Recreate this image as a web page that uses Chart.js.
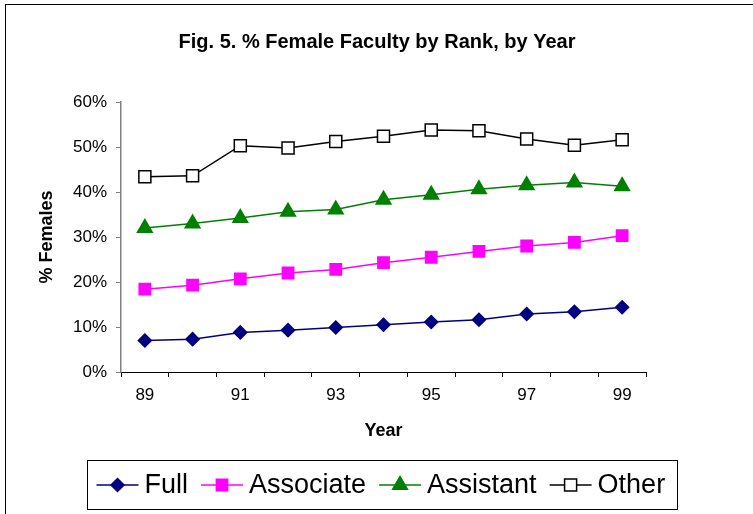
<!DOCTYPE html>
<html>
<head>
<meta charset="utf-8">
<title>Fig. 5. % Female Faculty by Rank, by Year</title>
<script src="https://cdn.jsdelivr.net/npm/chart.js"></script>
<style>
  html, body { margin: 0; padding: 0; background: #fff; }
  canvas { display: block; }
</style>
</head>
<body>
<canvas id="chart" width="753" height="514"></canvas>
<script>
// Data
const years = ['89', '90', '91', '92', '93', '94', '95', '96', '97', '98', '99'];
const labeledYears = ['89', '91', '93', '95', '97', '99'];
const fullValues = [7.0, 7.3, 8.8, 9.3, 9.9, 10.5, 11.1, 11.6, 12.9, 13.4, 14.4];
const associateValues = [18.4, 19.3, 20.7, 22.0, 22.8, 24.3, 25.5, 26.8, 28.0, 28.8, 30.3];
const assistantValues = [32.0, 33.0, 34.2, 35.6, 36.1, 38.3, 39.4, 40.6, 41.5, 42.1, 41.3];
const otherValues = [43.4, 43.6, 50.3, 49.8, 51.2, 52.4, 53.8, 53.6, 51.8, 50.4, 51.6];

const titleText = 'Fig. 5. % Female Faculty by Rank, by Year';
const fontFamily = '"Liberation Sans", Arial, sans-serif';

// small marker painter for the legend (same shapes as the chart points)
function drawMarker(ctx, style, r, x, y) {
  ctx.beginPath();
  if (style === 'rectRot') {
    ctx.moveTo(x, y - r);
    ctx.lineTo(x + r, y);
    ctx.lineTo(x, y + r);
    ctx.lineTo(x - r, y);
  } else if (style === 'triangle') {
    for (let i = 0; i < 3; i++) {
      const a = i * 2 * Math.PI / 3;
      const px = x + Math.sin(a) * r;
      const py = y - Math.cos(a) * r;
      if (i === 0) ctx.moveTo(px, py); else ctx.lineTo(px, py);
    }
  } else {
    const s = r * Math.SQRT1_2;
    ctx.rect(x - s, y - s, 2 * s, 2 * s);
  }
  ctx.closePath();
  ctx.fill();
  ctx.stroke();
}

const framePlugin = {
  id: 'framePlugin',
  afterDraw(chart) {
    const ctx = chart.ctx;
    const area = chart.chartArea;
    ctx.save();

    // outer frame
    ctx.strokeStyle = '#000';
    ctx.lineWidth = 1;
    ctx.strokeRect(5.5, 4.5, 800, 600);

    // title
    ctx.fillStyle = '#000';
    ctx.font = 'bold 20px ' + fontFamily;
    ctx.textAlign = 'center';
    ctx.textBaseline = 'middle';
    ctx.fillText(titleText, 377, 42);

    // legend box
    ctx.font = '27px ' + fontFamily;
    const lineLen = 42, gapText = 6, gapItem = 13, padL = 9, padR = 12;
    const items = chart.data.datasets.map(ds => ({ ds, w: ctx.measureText(ds.label).width }));
    const total = items.reduce((s, it) => s + lineLen + gapText + it.w, 0) + gapItem * (items.length - 1);
    const boxW = Math.round(total + padL + padR);
    const cx = (area.left + area.right) / 2;
    const boxX = Math.round(cx - boxW / 2) - 1.5;
    const boxY = 460.5, boxH = 49;
    ctx.strokeStyle = '#000';
    ctx.lineWidth = 1;
    ctx.strokeRect(boxX, boxY, boxW, boxH);

    let x = boxX + padL;
    const cy = boxY + boxH / 2;
    ctx.textAlign = 'left';
    items.forEach(it => {
      const ds = it.ds;
      ctx.strokeStyle = ds.borderColor;
      ctx.lineWidth = ds.borderWidth;
      ctx.beginPath();
      ctx.moveTo(x, cy);
      ctx.lineTo(x + lineLen, cy);
      ctx.stroke();

      ctx.fillStyle = ds.pointBackgroundColor;
      ctx.strokeStyle = ds.pointBorderColor;
      ctx.lineWidth = ds.pointBorderWidth;
      drawMarker(ctx, ds.pointStyle, ds.pointRadius, x + lineLen / 2, cy);

      ctx.fillStyle = '#000';
      ctx.fillText(ds.label, x + lineLen + gapText, cy + 1);
      x += lineLen + gapText + it.w + gapItem;
    });

    ctx.restore();
  }
};

function series(label, data, color, style, radius, fill) {
  return {
    label: label,
    data: data,
    borderColor: color,
    backgroundColor: color,
    borderWidth: 1.5,
    tension: 0,
    pointStyle: style,
    pointRadius: radius,
    pointHoverRadius: radius,
    pointBackgroundColor: fill || color,
    pointBorderColor: color,
    pointBorderWidth: 1.5
  };
}

new Chart(document.getElementById('chart').getContext('2d'), {
  type: 'line',
  data: {
    labels: years,
    datasets: [
      series('Full', fullValues, '#000080', 'rectRot', 6.5),
      series('Associate', associateValues, '#FF00FF', 'rect', 8),
      series('Assistant', assistantValues, '#008000', 'triangle', 8.5),
      series('Other', otherValues, '#000000', 'rect', 8.5, '#FFFFFF')
    ]
  },
  options: {
    responsive: false,
    animation: false,
    devicePixelRatio: 1,
    layout: {
      padding: { top: 102, right: 107, bottom: 72, left: 0 }
    },
    plugins: {
      legend: { display: false },
      title: { display: false },
      tooltip: { enabled: false }
    },
    scales: {
      x: {
        offset: true,
        grid: {
          offset: true,
          drawOnChartArea: false,
          tickLength: 5,
          color: '#000'
        },
        border: { color: '#000', width: 1 },
        ticks: {
          autoSkip: false,
          maxRotation: 0,
          color: '#000',
          padding: 8,
          font: { family: fontFamily, size: 17 },
          callback: function(value, index) {
            return labeledYears.includes(years[index]) ? years[index] : '';
          }
        },
        title: {
          display: true,
          text: 'Year',
          color: '#000',
          font: { family: fontFamily, size: 18, weight: 'bold' },
          padding: { top: 0, bottom: 0 }
        },
        afterFit: function(scale) {
          scale.height = 70;
        }
      },
      y: {
        min: 0,
        max: 60,
        grid: {
          drawOnChartArea: false,
          tickLength: 5,
          color: '#808080'
        },
        border: { color: '#808080', width: 1.5 },
        ticks: {
          stepSize: 10,
          color: '#000',
          padding: 9,
          font: { family: fontFamily, size: 17 },
          callback: function(value) {
            return value + '%';
          }
        },
        title: {
          display: true,
          text: '% Females',
          color: '#000',
          font: { family: fontFamily, size: 18, weight: 'bold' },
          padding: { top: 36, bottom: 0 }
        },
        afterFit: function(scale) {
          scale.width = 121;
        }
      }
    }
  },
  plugins: [framePlugin]
});
</script>
</body>
</html>
